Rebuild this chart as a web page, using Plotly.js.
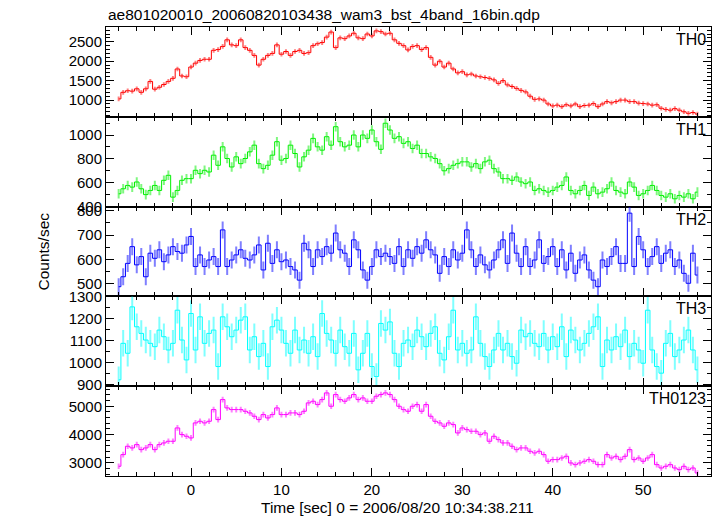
<!DOCTYPE html>
<html>
<head>
<meta charset="utf-8">
<script src="https://cdn.plot.ly/plotly-3.0.1.min.js"></script>
<style>html,body{margin:0;padding:0;background:#fff;}#chart{width:717px;height:516px;}</style>
</head>
<body>
<div id="chart"></div>
<script>
// Time bins (s), 0 = 2006/08/20 10:34:38.211
const time = [
-8,-7.5,-7,-6.5,-6,-5.5,-5,-4.5,-4,-3.5,
-3,-2.5,-2,-1.5,-1,-0.5,0,0.5,1,1.5,
2,2.5,3,3.5,4,4.5,5,5.5,6,6.5,
7,7.5,8,8.5,9,9.5,10,10.5,11,11.5,
12,12.5,13,13.5,14,14.5,15,15.5,16,16.5,
17,17.5,18,18.5,19,19.5,20,20.5,21,21.5,
22,22.5,23,23.5,24,24.5,25,25.5,26,26.5,
27,27.5,28,28.5,29,29.5,30,30.5,31,31.5,
32,32.5,33,33.5,34,34.5,35,35.5,36,36.5,
37,37.5,38,38.5,39,39.5,40,40.5,41,41.5,
42,42.5,43,43.5,44,44.5,45,45.5,46,46.5,
47,47.5,48,48.5,49,49.5,50,50.5,51,51.5,
52,52.5,53,53.5,54,54.5,55,55.5,56];

const th0 = [
1030,1200,1240,1230,1290,1200,1290,1480,1280,1330,
1400,1480,1560,1800,1620,1600,1850,1950,2020,2050,
2050,2280,2300,2380,2550,2420,2400,2550,2350,2280,
2150,1900,2050,2150,2200,2420,2180,2250,2150,2250,
2280,2200,2220,2400,2450,2480,2620,2750,2350,2600,
2580,2650,2720,2600,2580,2700,2650,2780,2760,2700,
2720,2550,2460,2400,2290,2380,2400,2300,2350,2100,
1900,2000,1850,1950,1800,1700,1730,1650,1670,1620,
1600,1580,1560,1520,1430,1500,1390,1350,1300,1250,
1210,1100,1020,1030,1000,900,850,870,830,880,
850,900,830,860,870,910,830,900,960,930,
960,1000,1000,960,960,920,910,900,870,880,
790,760,740,780,740,700,660,680,640];

const th1 = [
507,549,577,563,606,549,500,535,577,535,
620,662,479,535,620,634,634,704,676,704,
690,831,746,901,803,732,817,760,803,859,
915,760,718,746,831,944,789,803,915,845,
732,817,873,972,901,873,986,915,1070,944,
901,915,1000,901,1000,972,1042,944,880,1099,
1042,972,986,930,944,887,915,845,845,817,
803,760,700,718,746,760,775,775,732,760,
718,775,789,718,690,634,634,620,648,606,
592,606,535,549,535,521,535,563,577,648,
535,507,535,577,493,563,507,521,549,606,
535,521,507,606,563,493,507,535,577,535,
493,479,507,465,493,479,507,465,521];

const th2 = [
487,528,583,652,577,611,528,625,604,639,
590,618,652,632,625,659,694,570,618,570,
597,611,570,721,570,597,618,639,604,597,
618,659,556,666,583,639,590,597,570,556,
514,666,639,570,639,611,652,625,708,639,
625,570,680,639,556,514,570,639,611,625,
611,583,652,570,639,604,652,625,680,639,
618,542,611,570,639,597,625,721,639,570,
618,577,556,597,639,680,583,708,625,570,
652,570,597,680,583,611,652,570,639,556,
625,542,597,618,556,514,487,597,570,611,
652,583,583,790,570,694,639,570,611,652,
583,625,639,570,597,542,501,625,535];

const th3 = [
923,1088,1043,1253,1163,1133,1103,1088,1073,1148,
1118,1058,1088,1238,1103,1013,1223,1058,1208,1088,
1133,1148,983,1208,1163,1118,1148,1193,1208,1058,
1118,1028,1088,983,1163,1193,1148,1088,1043,1148,
1058,1103,1043,1118,1028,1223,1133,1103,1043,1148,
1073,1043,1133,968,1043,1133,983,938,1178,1148,
1185,1043,983,1088,1103,1073,1148,1118,1073,1133,
1163,1043,1013,1118,1238,1058,1088,1043,1058,1208,
1088,1028,983,1058,1133,1058,1088,1028,998,1148,
1118,1133,1088,1073,1133,1058,1118,1073,1163,1028,
1148,1103,1058,1088,1133,1163,1208,983,1103,1058,
1118,1073,1148,1028,1088,1058,998,1238,1058,983,
953,1088,1133,1028,1058,1103,1148,1058,968];

const th0123 = [
2883,3294,3588,3530,3647,3470,3530,3647,3470,3647,
3706,3765,3765,4235,4000,3941,3882,4412,4470,4412,
4470,4882,4529,5235,4941,4882,4882,4882,4823,4765,
4647,4529,4706,4588,4706,4941,4706,4706,4765,4765,
4706,4823,5118,5176,5059,5235,5470,5000,5412,5235,
5176,5294,5412,5235,5294,5176,5176,5353,5412,5470,
5412,5235,5000,4882,4823,5000,5059,4823,5059,4647,
4470,4412,4294,4412,4353,4059,4235,4176,4118,4118,
4000,4059,3765,3941,3823,3706,3706,3588,3470,3530,
3530,3412,3353,3412,3294,3059,3118,3118,3176,3235,
3000,2941,3000,3059,3118,3059,2941,2941,3294,3176,
3235,3118,3235,3470,3118,3176,3059,3176,3294,2941,
2823,2882,2941,2823,2765,2882,2765,2823,2647];

// Typical 1-sigma error per band (counts/sec)
const bandNames = ['TH0','TH1','TH2','TH3','TH0123'];
const bandErr = [60, 40, 35, 60, 100];

const series = [th0, th1, th2, th3, th0123];
const colors = [[255,0,0],[0,240,0],[0,0,255],[0,255,255],[255,0,255]];
const yRanges = [[570,2880],[399.5,1153],[447,817],[894,1300.5],[2540,5707]];
const yDticks = [500,200,100,100,1000];
const yMinor = [100,100,50,50,200];
const xRange = [-9.4, 57.5];

const traces = [];
const layout = {
  width: 717, height: 516,
  margin: {l: 106, r: 6, t: 27, b: 40},
  paper_bgcolor: '#fff', plot_bgcolor: '#fff',
  showlegend: false,
  font: {family: 'Liberation Sans, Arial, sans-serif', size: 15, color: '#000'},
  annotations: []
};

const n = series.length;
for (let i = 0; i < n; i++) {
  const c = colors[i];
  const solid = `rgb(${c[0]},${c[1]},${c[2]})`;
  const light = `rgba(${c[0]},${c[1]},${c[2]},0.5)`;
  const xa = i === 0 ? 'x' : 'x' + (i + 1);
  const ya = i === 0 ? 'y' : 'y' + (i + 1);
  traces.push({
    x: time, y: series[i], type: 'scatter', mode: 'lines',
    xaxis: xa, yaxis: ya,
    line: {color: solid, width: 1, shape: 'hvh'},
    error_y: {type: 'constant', value: bandErr[i], color: light, thickness: 2, width: 0},
    hoverinfo: 'skip'
  });
  const top = 1 - i / n, bot = 1 - (i + 1) / n;
  const xkey = i === 0 ? 'xaxis' : 'xaxis' + (i + 1);
  const ykey = i === 0 ? 'yaxis' : 'yaxis' + (i + 1);
  layout[xkey] = {
    domain: [0, 1], anchor: ya, range: xRange,
    tickmode: 'linear', tick0: 0, dtick: 10,
    ticks: 'inside', ticklen: 8, tickwidth: 1, tickcolor: '#000',
    minor: {ticks: 'inside', tick0: 0, dtick: 2, ticklen: 4, tickcolor: '#000', showgrid: false},
    showline: true, linecolor: '#000', linewidth: 1, mirror: 'ticks',
    showgrid: false, zeroline: false,
    showticklabels: i === n - 1,
    tickfont: {size: 15}
  };
  layout[ykey] = {
    domain: [bot, top], anchor: xa, range: yRanges[i],
    tickmode: 'linear', tick0: 0, dtick: yDticks[i],
    ticks: 'inside', ticklen: 8, tickwidth: 1, tickcolor: '#000',
    minor: {ticks: 'inside', tick0: 0, dtick: yMinor[i], ticklen: 4, tickcolor: '#000', showgrid: false},
    showline: true, linecolor: '#000', linewidth: 1, mirror: 'ticks',
    showgrid: false, zeroline: false,
    tickfont: {size: 15}
  };
  layout.annotations.push({
    text: bandNames[i], xref: 'paper', yref: 'paper',
    x: 1, y: top, xanchor: 'right', yanchor: 'top', xshift: -3, yshift: -2,
    showarrow: false, font: {size: 16}
  });
}

layout.annotations.push({
  text: 'ae801020010_20060820103438_wam3_bst_4band_16bin.qdp',
  xref: 'paper', yref: 'paper', x: 0, y: 1, xanchor: 'left', yanchor: 'bottom',
  yshift: 2, xshift: 0, showarrow: false, font: {size: 15.5}
});
layout.annotations.push({
  text: 'Counts/sec', xref: 'paper', yref: 'paper', x: 0, y: 0.5,
  xanchor: 'center', yanchor: 'middle', xshift: -63, textangle: -90,
  showarrow: false, font: {size: 15.5}
});
layout.annotations.push({
  text: 'Time [sec] 0 = 2006/08/20 10:34:38.211', xref: 'paper', yref: 'paper',
  x: 0.5, y: 0, xanchor: 'center', yanchor: 'middle', yshift: -31, xshift: -11,
  showarrow: false, font: {size: 15.5}
});

Plotly.newPlot('chart', traces, layout, {staticPlot: true, displayModeBar: false});
</script>
</body>
</html>
